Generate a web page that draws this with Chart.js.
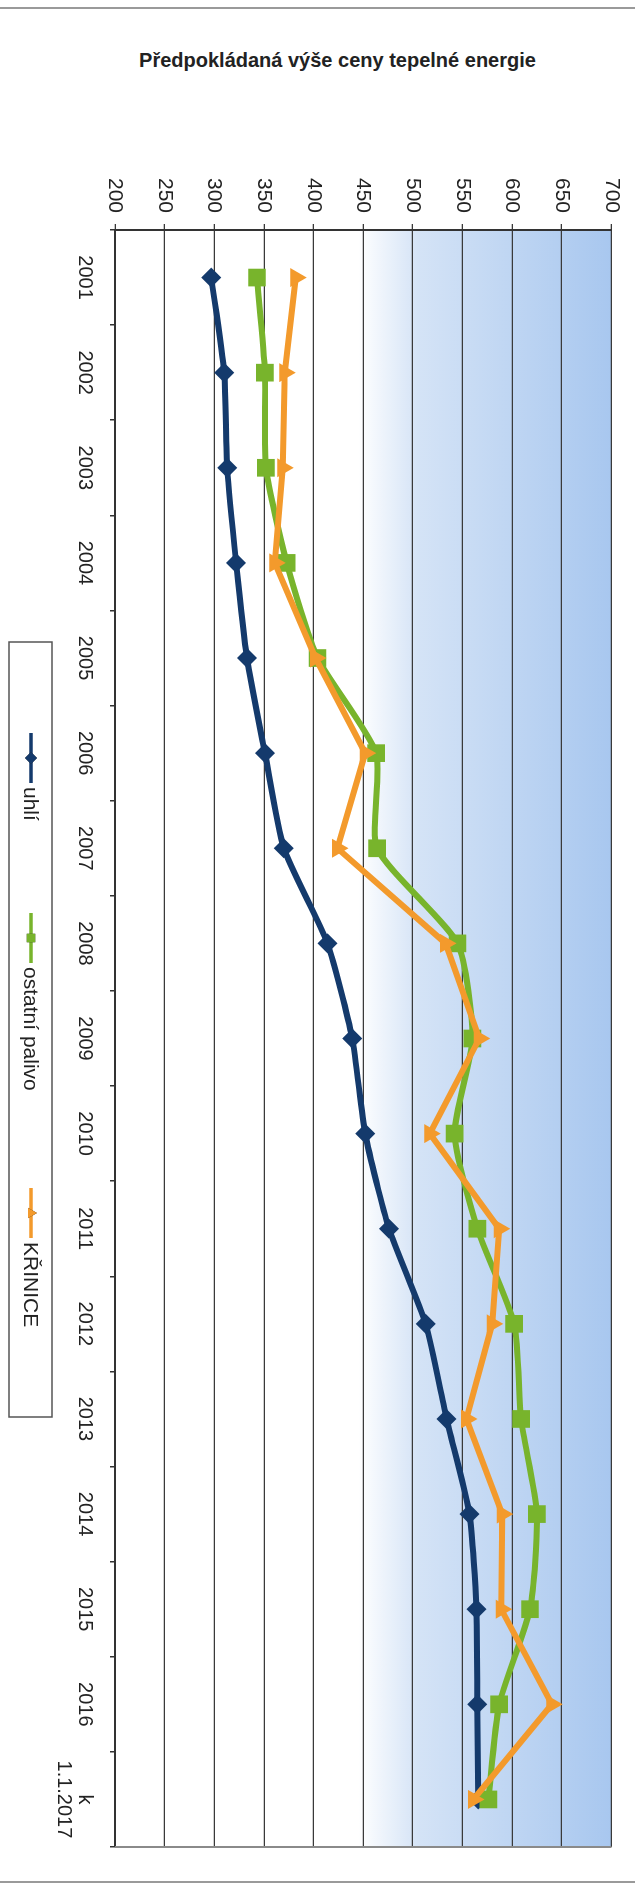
<!DOCTYPE html>
<html>
<head>
<meta charset="utf-8">
<script src="https://cdn.jsdelivr.net/npm/chart.js@4"></script>
<style>
    html, body { margin: 0; padding: 0; background: #fff; overflow: hidden; }
    body { width: 635px; height: 1884px; position: relative; font-family: "Liberation Sans", Arial, sans-serif; }
    .frame { position: absolute; left: 0; width: 635px; height: 2px; background: #9a9a9a; }
    #title { position: absolute; left: 120px; width: 435px; top: 49px; text-align: center;
        font-weight: bold; font-size: 20px; color: #222; white-space: nowrap; }
    #wrap { position: absolute; left: 0; top: 0; width: 1884px; height: 635px;
        transform-origin: 0 0; transform: translate(635px, 0) rotate(90deg); }
</style>
</head>
<body>
<div class="frame" style="top:7px"></div>
<div class="frame" style="top:1881px"></div>
<div id="title">Předpokládaná výše ceny tepelné energie</div>
<div id="wrap"><canvas id="priceChart" width="1884" height="635"></canvas></div>
<script>
// values (Kč/GJ)
const categories = ['2001', '2002', '2003', '2004', '2005', '2006', '2007', '2008', '2009',
    '2010', '2011', '2012', '2013', '2014', '2015', '2016', ['k', '1.1.2017']];
const seriesNames = ['uhlí', 'ostatní palivo', 'KŘINICE'];
const uhli = [297, 310, 313, 322, 333, 351, 370, 414, 439, 452, 476, 513, 534, 557, 564, 565, 566];
const ostatni = [343, 351, 352, 373, 404, 463, 464, 545, 560, 542, 565, 602, 609, 625, 618, 587, 576];
const krinice = [382, 371, 369, 361, 402, 452, 424, 533, 567, 517, 587, 580, 554, 590, 589, 640, 561];
const yMin = 200, yMax = 700, yStep = 50;

const colors = ['#143a6c', '#78b42c', '#f39a2c'];
const styles = ['rectRot', 'rect', 'triangle'];

// blue gradient behind the upper part of the plot + right border
const plotBackground = {
    id: 'plotBackground',
    beforeDraw(chart) {
        const { ctx, chartArea: a, scales: { y } } = chart;
        const y0 = y.getPixelForValue(445);
        const y1 = y.getPixelForValue(700);
        const g = ctx.createLinearGradient(0, y0, 0, y1);
        g.addColorStop(0, '#ffffff');
        g.addColorStop(0.24, '#d4e3f6');
        g.addColorStop(1, '#a8c7ef');
        ctx.save();
        ctx.fillStyle = g;
        ctx.fillRect(a.left, a.top, a.right - a.left, y0 - a.top);
        ctx.restore();
    },
    afterDraw(chart) {
        const { ctx, chartArea: a } = chart;
        ctx.save();
        ctx.strokeStyle = '#8a8a8a';
        ctx.lineWidth = 2;
        ctx.beginPath();
        ctx.moveTo(a.right, a.top);
        ctx.lineTo(a.right, a.bottom);
        ctx.stroke();
        ctx.restore();
    }
};

// boxed legend below the category labels
const boxLegend = {
    id: 'boxLegend',
    afterDraw(chart) {
        const ctx = chart.ctx;
        const items = [733, 913, 1188];
        ctx.save();
        ctx.strokeStyle = '#555';
        ctx.lineWidth = 1.5;
        ctx.strokeRect(642, 583, 775, 43);
        ctx.font = '21px "Liberation Sans", Arial, sans-serif';
        ctx.textBaseline = 'middle';
        ctx.fillStyle = '#222';
        chart.data.datasets.forEach((ds, i) => {
            const x = items[i];
            const y = 604;
            ctx.strokeStyle = ds.borderColor;
            ctx.lineWidth = 3.5;
            ctx.beginPath();
            ctx.moveTo(x, y);
            ctx.lineTo(x + 50, y);
            ctx.stroke();
            Chart.helpers.drawPoint(ctx, { pointStyle: ds.pointStyle, radius: 6, borderWidth: 0 }, x + 25, y);
            ctx.fillStyle = ds.borderColor;
            ctx.fill();
            ctx.fillStyle = '#222';
            ctx.fillText(ds.label, x + 54, y + 1);
        });
        ctx.restore();
    }
};

function makeSet(i, data, radius, tension) {
    return {
        label: seriesNames[i],
        data: data,
        borderColor: colors[i],
        backgroundColor: colors[i],
        pointBackgroundColor: colors[i],
        pointBorderColor: colors[i],
        pointBorderWidth: 0,
        pointStyle: styles[i],
        pointRadius: radius,
        borderWidth: 6,
        tension: tension,
        order: 2 - i
    };
}

new Chart(document.getElementById('priceChart'), {
    type: 'line',
    data: {
        labels: categories,
        datasets: [
            makeSet(0, uhli, 10, 0.2),
            makeSet(1, ostatni, 12.5, 0.2),
            makeSet(2, krinice, 11, 0)
        ]
    },
    options: {
        responsive: false,
        animation: false,
        devicePixelRatio: 1,
        layout: { padding: { left: 0, right: 37, top: 15, bottom: 0 } },
        plugins: {
            legend: { display: false },
            tooltip: { enabled: false }
        },
        scales: {
            x: {
                offset: true,
                afterFit: s => { s.height = 115; },
                grid: { offset: true, drawOnChartArea: false, drawTicks: true, tickLength: 5, color: '#333', lineWidth: 1.5 },
                border: { display: true, color: '#333', width: 2 },
                ticks: {
                    color: '#222',
                    padding: 15,
                    maxRotation: 0,
                    autoSkip: false,
                    font: { family: '"Liberation Sans", Arial, sans-serif', size: 20, lineHeight: 1.05 }
                }
            },
            y: {
                min: yMin,
                max: yMax,
                afterFit: s => { s.width = 230; },
                grid: { color: '#3a3a3a', lineWidth: 1.3, tickLength: 6 },
                border: { display: true, color: '#333', width: 2 },
                ticks: {
                    stepSize: yStep,
                    color: '#222',
                    padding: 11,
                    font: { family: '"Liberation Sans", Arial, sans-serif', size: 21 }
                }
            }
        }
    },
    plugins: [plotBackground, boxLegend]
});
</script>
</body>
</html>
